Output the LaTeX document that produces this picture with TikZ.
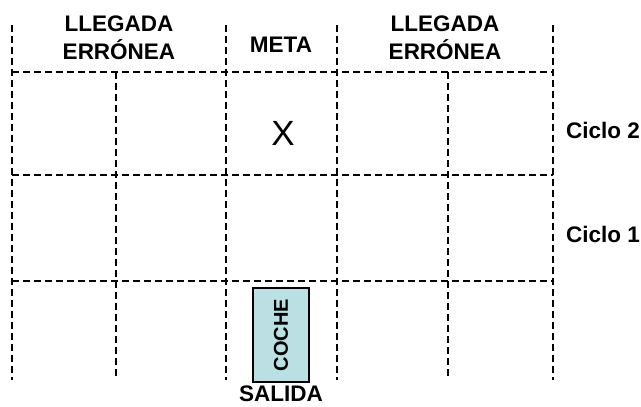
\documentclass[tikz,border=0pt]{standalone}
\usepackage{fontspec}
\setmainfont{Liberation Sans}

\begin{document}
\begin{tikzpicture}[x=1pt,y=-1pt]
\tikzstyle{rejilla}=[line width=1.4pt, dash pattern=on 6.5pt off 4.5pt]
\tikzstyle{rotulo}=[font=\fontsize{22.5}{28.5}\selectfont\bfseries, align=center, inner sep=0pt]
\definecolor{cochecolor}{HTML}{B9E0E3}

\useasboundingbox (0,0) rectangle (641,407);

% columnas
\foreach \x in {12,226,337,553} {
\draw[rejilla] (\x,25) -- (\x,380);
}
\foreach \x in {116,448} {
\draw[rejilla] (\x,72) -- (\x,377);
}
% filas
\foreach \y in {72,175,281} {
\draw[rejilla] (12,\y) -- (553,\y);
}

\node[rotulo] (izq) at (119,38) {LLEGADA\\ERRÓNEA};
\node[rotulo] (meta) at (281,45) {META};
\node[rotulo] (der) at (445,38) {LLEGADA\\ERRÓNEA};
\node[rotulo, anchor=west] (ciclo2) at (566,130) {Ciclo 2};
\node[rotulo, anchor=west] (ciclo1) at (566,234) {Ciclo 1};
\node[font=\fontsize{35}{40}\selectfont] (x) at (283,133) {X};

\node[draw, line width=1.3pt, fill=cochecolor, minimum width=56pt, minimum height=94pt,
  inner sep=0pt] (coche) at (281,335) {};
\node[font=\fontsize{20}{24}\selectfont\bfseries, rotate=90] (texto) at (coche) {COCHE};
\node[rotulo] (salida) at (281,394) {SALIDA};

\end{tikzpicture}
\end{document}
